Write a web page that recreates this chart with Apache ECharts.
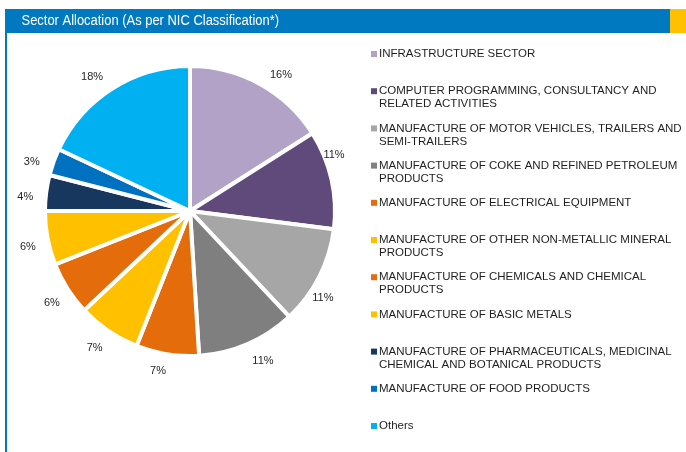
<!DOCTYPE html>
<html>
<head>
<meta charset="utf-8">
<script src="https://cdn.jsdelivr.net/npm/echarts@6/dist/echarts.min.js"></script>
<style>
  html, body { margin: 0; padding: 0; background: #ffffff; }
  #chart { width: 686px; height: 452px; }
</style>
</head>
<body>
<div id="chart"></div>
<script>
// Sector names, one entry per slice
const sectors = [
  'INFRASTRUCTURE SECTOR',
  'COMPUTER PROGRAMMING, CONSULTANCY AND RELATED ACTIVITIES',
  'MANUFACTURE OF MOTOR VEHICLES, TRAILERS AND SEMI-TRAILERS',
  'MANUFACTURE OF COKE AND REFINED PETROLEUM PRODUCTS',
  'MANUFACTURE OF ELECTRICAL EQUIPMENT',
  'MANUFACTURE OF OTHER NON-METALLIC MINERAL PRODUCTS',
  'MANUFACTURE OF CHEMICALS AND CHEMICAL PRODUCTS',
  'MANUFACTURE OF BASIC METALS',
  'MANUFACTURE OF PHARMACEUTICALS, MEDICINAL CHEMICAL AND BOTANICAL PRODUCTS',
  'MANUFACTURE OF FOOD PRODUCTS',
  'Others'
];
// Legend wording, split where each entry wraps
const legendLines = [
  ['INFRASTRUCTURE SECTOR'],
  ['COMPUTER PROGRAMMING, CONSULTANCY AND', 'RELATED ACTIVITIES'],
  ['MANUFACTURE OF MOTOR VEHICLES, TRAILERS AND', 'SEMI-TRAILERS'],
  ['MANUFACTURE OF COKE AND REFINED PETROLEUM', 'PRODUCTS'],
  ['MANUFACTURE OF ELECTRICAL EQUIPMENT'],
  ['MANUFACTURE OF OTHER NON-METALLIC MINERAL', 'PRODUCTS'],
  ['MANUFACTURE OF CHEMICALS AND CHEMICAL', 'PRODUCTS'],
  ['MANUFACTURE OF BASIC METALS'],
  ['MANUFACTURE OF PHARMACEUTICALS, MEDICINAL', 'CHEMICAL AND BOTANICAL PRODUCTS'],
  ['MANUFACTURE OF FOOD PRODUCTS'],
  ['Others']
];
// Allocation, percent of portfolio
const allocation = [16, 11, 11, 11, 7, 7, 6, 6, 4, 3, 18];
const sliceColors = [
  '#B3A2C7', '#604A7B', '#A6A6A6', '#7F7F7F', '#E46C0A', '#FFC000',
  '#E46C0A', '#FFC000', '#17375E', '#0070C0', '#00B0F0'
];
// Small hand placement tweaks for the percentage labels, in pixels [dx, dy]
const labelNudge = [
  [11, 9], [-18, -20], [-15, 12], [7, -2], [-6, -4], [-2, 0],
  [2, 3], [1, 5], [0, 7], [-2, 7], [-9, 6]
];

const chart = echarts.init(document.getElementById('chart'), null, { renderer: 'canvas' });

// rich styles: a coloured square per sector plus a shared text style
const rich = {
  t: { fontFamily: 'Liberation Sans, Arial, sans-serif', fontSize: 11.5, lineHeight: 13, color: '#1f1f1f', padding: [0, 0, 0, 2] },
  p: { width: 6, height: 6 }
};
sliceColors.forEach((c, i) => {
  rich['s' + i] = { width: 6, height: 6, backgroundColor: c };
});

const pieCenter = [190, 211];

chart.setOption({
  backgroundColor: '#ffffff',
  animation: false,
  graphic: [
    { type: 'rect', z: -1, shape: { x: 5, y: 9, width: 665, height: 24 }, style: { fill: '#0079C1' } },
    { type: 'rect', z: -1, shape: { x: 670, y: 9, width: 16, height: 24 }, style: { fill: '#FFC000' } },
    { type: 'rect', z: -1, shape: { x: 5, y: 33, width: 2, height: 419 }, style: { fill: '#0079C1' } },
    {
      type: 'text', z: 5, x: 21.5, y: 20.5, scaleX: 0.835,
      style: {
        text: 'Sector Allocation (As per NIC Classification*)',
        font: '15.5px "Liberation Sans", Arial, sans-serif',
        fill: '#ffffff',
        verticalAlign: 'middle',
        align: 'left'
      }
    }
  ],
  legend: {
    orient: 'vertical',
    left: 366,
    top: 47.5,
    padding: 0,
    itemGap: 11.7,
    itemWidth: 0,
    itemHeight: 26,
    icon: 'none',
    selectedMode: false,
    data: sectors,
    formatter: function (name) {
      const i = sectors.indexOf(name);
      const lines = legendLines[i];
      return '{s' + i + '|}{t|' + lines[0] + '}\n{p|}{t|' + (lines[1] || ' ') + '}';
    },
    textStyle: { rich: rich }
  },
  series: [
    {
      // the slices
      type: 'pie',
      center: pieCenter,
      radius: 145,
      startAngle: 90,
      clockwise: true,
      itemStyle: { borderColor: '#ffffff', borderWidth: 4 },
      label: { show: false },
      labelLine: { show: false },
      emphasis: { disabled: true },
      data: allocation.map((v, i) => ({
        name: sectors[i],
        value: v,
        itemStyle: { color: sliceColors[i] }
      }))
    },
    {
      // transparent ring outside the slices that carries the percentage labels
      type: 'pie',
      center: pieCenter,
      radius: [155, 171],
      startAngle: 90,
      clockwise: true,
      silent: true,
      itemStyle: { color: 'rgba(0,0,0,0)', borderWidth: 0 },
      label: {
        show: true,
        position: 'inside',
        formatter: '{c}%',
        fontFamily: 'Liberation Sans, Arial, sans-serif',
        fontSize: 11,
        color: '#262626'
      },
      labelLayout: function (params) {
        const n = labelNudge[params.dataIndex];
        return { dx: n[0], dy: n[1] };
      },
      labelLine: { show: false },
      emphasis: { disabled: true },
      data: allocation.map((v, i) => ({ name: sectors[i], value: v }))
    }
  ]
});
</script>
</body>
</html>
